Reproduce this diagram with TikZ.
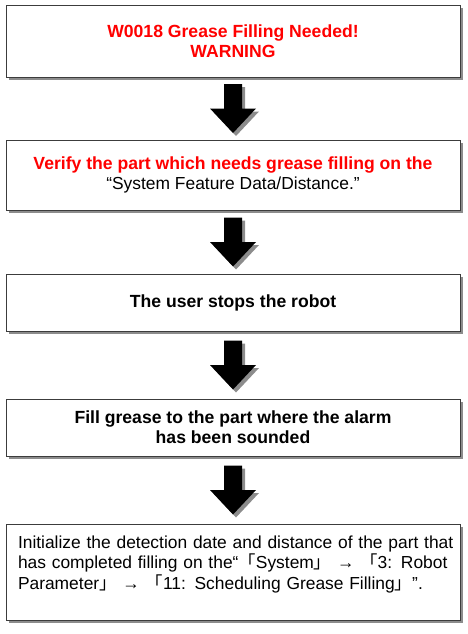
\documentclass[tikz,border=0pt]{standalone}
\usepackage{fontspec}
\setmainfont{Liberation Sans}
\newfontfamily\cjk{Noto Sans CJK JP}
\usetikzlibrary{calc,shadows}
\definecolor{alarmred}{HTML}{FF0000}
\definecolor{framegray}{HTML}{3C3C3C}
\definecolor{shadowgray}{HTML}{8C8C8C}

\tikzset{
  procbox/.style={rectangle, draw=framegray, line width=0.9pt, fill=white, minimum width=454pt, align=center,
    font=\fontsize{17.4}{20.5}\selectfont,
    drop shadow={shadow xshift=3pt, shadow yshift=-3pt, fill=shadowgray, opacity=1}},
  boldtext/.style={font=\fontsize{17.6}{20}\selectfont\bfseries},
  pics/downarrow/.style={code={
    \fill[shadowgray] (-6,-21.5) -- (12,-21.5) -- (12,3) -- (26,3) -- (3,27.5) -- (-20,3) -- (-6,3) -- cycle;
    \fill[black] (-9,-24.5) -- (9,-24.5) -- (9,0) -- (23,0) -- (0,24.5) -- (-23,0) -- (-9,0) -- cycle;
  }}
}

\begin{document}
\begin{tikzpicture}[x=1pt, y=-1pt]
  \useasboundingbox (0,0) rectangle (467,634);

  \node[procbox, boldtext, text=alarmred, minimum height=72pt] (b1) at (233,41)
    {W0018 Grease Filling Needed!\\WARNING};
  \node[procbox, minimum height=70pt] (b2) at (233,175)
    {\textcolor{alarmred}{\bfseries\fontsize{17.6}{20}\selectfont Verify the part which needs grease filling on the}\\%
     “System Feature Data/Distance.”};
  \node[procbox, boldtext, minimum height=57pt] (b3) at (233,302.5)
    {The user stops the robot};
  \node[procbox, boldtext, minimum height=57pt] (b4) at (233,427.5)
    {Fill grease to the part where the alarm\\has been sounded};
  \node[procbox, align=left, text width=430pt, minimum height=96pt] (b5) at (233,572)
    {\makebox[430pt][s]{Initialize the detection date and distance of the part that}\\
     \makebox[430pt][s]{has completed filling on the“{\cjk 「}System{\cjk 」} → {\cjk 「}3: Robot}\\
     Parameter{\cjk 」} → {\cjk 「}11: Scheduling Grease Filling{\cjk 」}”.\\[-1pt]\mbox{}};

  % block arrows between the steps
  \pic (a1) at ($(b1.south)!0.5!(b2.north)$) {downarrow};
  \pic (a2) at ($(b2.south)!0.5!(b3.north)$) {downarrow};
  \pic (a3) at ($(b3.south)!0.5!(b4.north)$) {downarrow};
  \pic (a4) at ($(b4.south)!0.5!(b5.north)$) {downarrow};
\end{tikzpicture}
\end{document}
